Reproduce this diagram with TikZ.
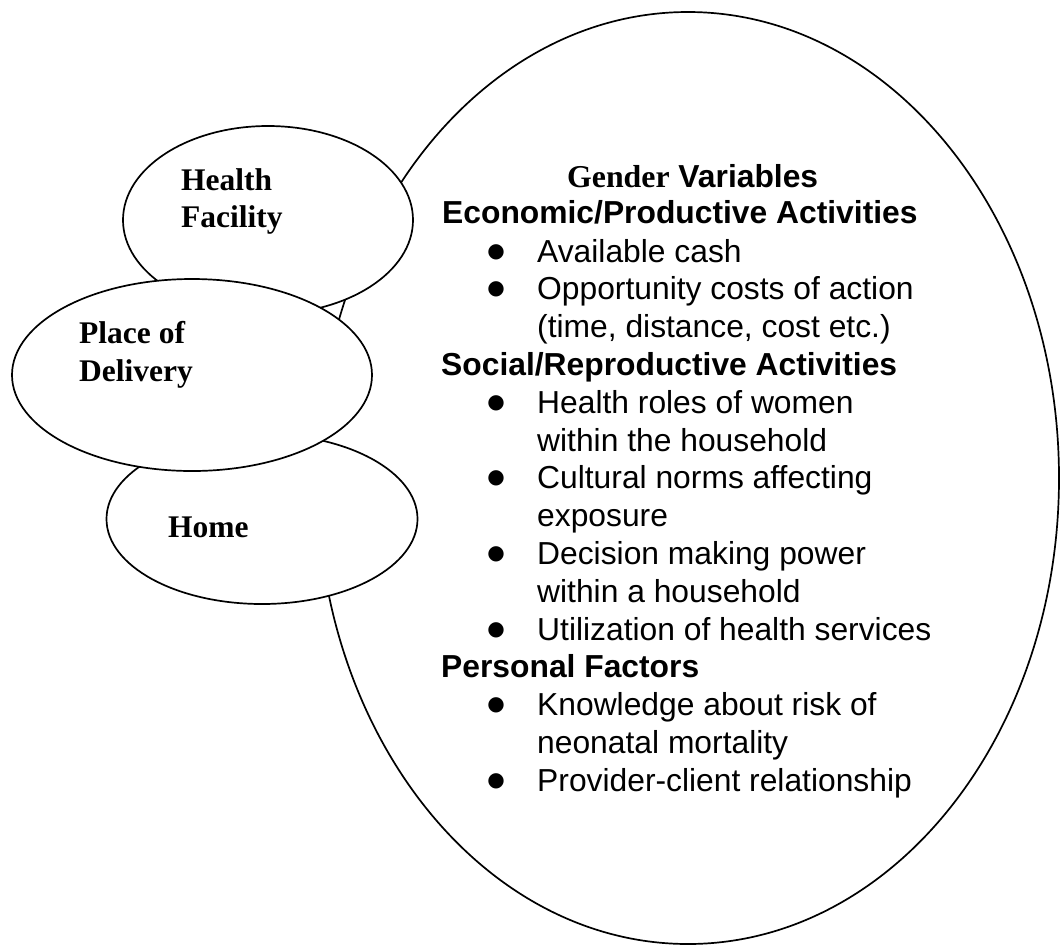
\documentclass[tikz,border=0pt]{standalone}
\usepackage{fontspec}
\setmainfont{Liberation Sans}
\newfontfamily\tnr{Liberation Serif}
\newfontfamily\djv{DejaVu Sans}
\usetikzlibrary{shapes.geometric}
\begin{document}
\begin{tikzpicture}[x=1pt,y=-1pt,
  ell/.style={ellipse, draw, fill=white, line width=1.7pt, inner sep=0pt},
  txt/.style={anchor=base west, inner sep=0pt, font=\fontsize{31.8}{36}\selectfont},
  hdr/.style={anchor=base west, inner sep=0pt, font=\fontsize{31.8}{36}\selectfont\bfseries},
  lbl/.style={anchor=base west, inner sep=0pt, font=\fontsize{31.5}{36}\selectfont\tnr\bfseries},
  bul/.style={anchor=center, inner sep=0pt, font=\fontsize{20}{22}\selectfont\djv},
]
\useasboundingbox (0,0) rectangle (1060,946);
% ellipses (back to front)
\node[ell, minimum width=742pt, minimum height=932pt] (gender) at (688,478) {};
\node[ell, minimum width=311pt, minimum height=170pt] (home) at (262,519) {};
\node[ell, minimum width=290pt, minimum height=188pt] (hf) at (268,220) {};
\node[ell, minimum width=360pt, minimum height=192pt] (pod) at (192,375) {};
% ellipse labels
\node[lbl] (hf1) at (181,190) {Health};
\node[lbl] (hf2) at (181,227) {Facility};
\node[lbl] (pod1) at (79,343) {Place of};
\node[lbl] (pod2) at (79,381) {Delivery};
\node[lbl] (home1) at (168,537) {Home};
% big ellipse text
\node[hdr] (g0) at (567,187) {{\tnr Gender} Variables};
\node[hdr] (h1) at (442,223) {Economic/Productive Activities};
\node[bul] (b1) at (496,252) {●};
\node[txt] (l1) at (537,262) {Available cash};
\node[bul] (b2) at (496,289.8) {●};
\node[txt] (l2) at (537,299.8) {Opportunity costs of action};
\node[txt] (l2b) at (537,337.6) {(time, distance, cost etc.)};
\node[hdr] (h2) at (441,375.4) {Social/Reproductive Activities};
\node[bul] (b3) at (496,403.2) {●};
\node[txt] (l3) at (537,413.2) {Health roles of women};
\node[txt] (l3b) at (537,451) {within the household};
\node[bul] (b4) at (496,478.8) {●};
\node[txt] (l4) at (537,488.8) {Cultural norms affecting};
\node[txt] (l4b) at (537,526.6) {exposure};
\node[bul] (b5) at (496,554.4) {●};
\node[txt] (l5) at (537,564.4) {Decision making power};
\node[txt] (l5b) at (537,602.2) {within a household};
\node[bul] (b6) at (496,630) {●};
\node[txt] (l6) at (537,640) {Utilization of health services};
\node[hdr] (h3) at (441,677.8) {Personal Factors};
\node[bul] (b7) at (496,705.6) {●};
\node[txt] (l7) at (537,715.6) {Knowledge about risk of};
\node[txt] (l7b) at (537,753.4) {neonatal mortality};
\node[bul] (b8) at (496,781.2) {●};
\node[txt] (l8) at (537,791.2) {Provider-client relationship};
\end{tikzpicture}
\end{document}
